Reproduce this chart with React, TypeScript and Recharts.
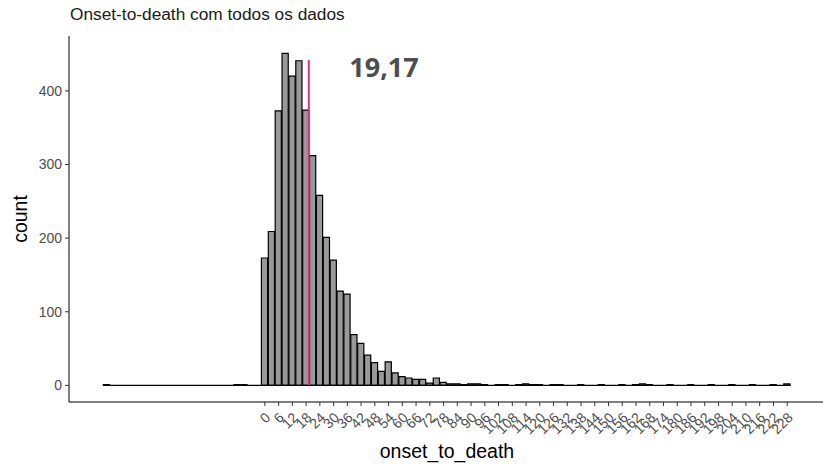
import { ComposedChart, Bar, XAxis, YAxis, ReferenceLine, ReferenceDot } from 'recharts';

// histogram bins (binwidth 3, centre of each bin); bins not listed are zero
const binCenters = [
  -69, -12, -9, 0, 3, 6, 9, 12, 15, 18, 21, 24, 27, 30, 33, 36, 39, 42, 45, 48, 51, 54, 57, 60,
  63, 66, 69, 72, 75, 78, 81, 84, 87, 90, 93, 96, 102, 105, 111, 114, 117, 120, 126, 129, 138,
  147, 156, 162, 165, 168, 177, 186, 195, 204, 213, 222, 228,
];
const binCounts = [
  1, 1, 1, 173, 209, 373, 451, 420, 441, 374, 312, 258, 201, 170, 128, 124, 69, 57, 41, 31, 19, 32,
  17, 12, 10, 8, 8, 3, 10, 4, 2, 2, 1, 2, 2, 1, 1, 1, 1, 2, 1, 1, 1, 1, 1, 1, 1, 1, 2, 1, 1, 1, 1,
  1, 1, 1, 2,
];
const xTicks = [
  0, 6, 12, 18, 24, 30, 36, 42, 48, 54, 60, 66, 72, 78, 84, 90, 96, 102, 108, 114, 120, 126, 132,
  138, 144, 150, 156, 162, 168, 174, 180, 186, 192, 198, 204, 210, 216, 222, 228,
];
const yTicks = [0, 100, 200, 300, 400];
const meanValue = 19.17;
const meanLabel = '19,17';
const meanTop = 442;
const labelPos = { x: 52, y: 432 };
const dataRange = [-70.5, 229.5];
const xDomain = [-85.5, 244.5];
const yDomain = [-22.6, 474.6];

const data = binCenters.map((x, i) => ({ x, count: binCounts[i] }));

const CHART_W = 830;
const CHART_H = 464;
const MARGIN = { top: 36, right: 5, bottom: 2, left: 9 };
const Y_AXIS_W = 60;
const X_AXIS_H = 60;
const plotW = CHART_W - MARGIN.left - MARGIN.right - Y_AXIS_W;
const barSize = (3 * plotW) / (xDomain[1] - xDomain[0]);

const FONT = '"Liberation Sans", Arial, sans-serif';

function XTick({ x, y, payload }: any) {
  return (
    <g transform={`translate(${x + 3},${y + 7})`}>
      <text
        x={0}
        y={0}
        dy="0.35em"
        textAnchor="end"
        transform="rotate(-45)"
        fill="#4d4d4d"
        fontSize={14}
        fontFamily={FONT}
      >
        {payload.value}
      </text>
    </g>
  );
}

function XTitle({ viewBox }: any) {
  const { x, y, width, height } = viewBox;
  return (
    <text x={x + width / 2} y={y + height - 4} textAnchor="middle" fontSize={19.5} fill="#000" fontFamily={FONT}>
      onset_to_death
    </text>
  );
}

function YTitle({ viewBox }: any) {
  const { x, y, height } = viewBox;
  const cx = x + 18;
  const cy = y + height / 2;
  return (
    <text
      x={cx}
      y={cy}
      textAnchor="middle"
      transform={`rotate(-90, ${cx}, ${cy})`}
      fontSize={19.5}
      fill="#000"
      fontFamily={FONT}
    >
      count
    </text>
  );
}

function MeanText({ viewBox }: any) {
  const { x, y, width, height } = viewBox;
  return (
    <text
      x={x + width / 2}
      y={y + height / 2}
      dy="0.36em"
      textAnchor="middle"
      fontSize={27}
      fontWeight="bold"
      fill="#4d4d4d"
      fontFamily='"Noto Sans", "Open Sans", sans-serif'
    >
      {meanLabel}
    </text>
  );
}

export default function App() {
  return (
    <div style={{ position: 'relative', width: 823, height: 464, overflow: 'hidden', background: '#fff' }}>
      <style>{'body { margin: 0; }'}</style>
      <div
        style={{
          position: 'absolute',
          left: 70,
          top: 4,
          fontFamily: FONT,
          fontSize: 17.3,
          color: '#1a1a1a',
          whiteSpace: 'nowrap',
        }}
      >
        Onset-to-death com todos os dados
      </div>
      <ComposedChart width={CHART_W} height={CHART_H} data={data} margin={MARGIN}>
        <XAxis
          dataKey="x"
          type="number"
          domain={xDomain}
          ticks={xTicks}
          interval={0}
          height={X_AXIS_H}
          tick={<XTick />}
          tickSize={4}
          tickLine={{ stroke: '#333' }}
          axisLine={{ stroke: '#000', strokeWidth: 1 }}
          label={<XTitle />}
        />
        <YAxis
          type="number"
          domain={yDomain}
          ticks={yTicks}
          width={Y_AXIS_W}
          tickSize={4}
          tickMargin={3}
          tick={{ fill: '#4d4d4d', fontSize: 14, fontFamily: FONT }}
          tickLine={{ stroke: '#333' }}
          axisLine={{ stroke: '#000', strokeWidth: 1 }}
          label={<YTitle />}
        />
        <Bar
          dataKey="count"
          barSize={barSize}
          fill="#999999"
          stroke="#000"
          strokeWidth={1.2}
          isAnimationActive={false}
        />
        <ReferenceLine
          segment={[
            { x: dataRange[0], y: 0 },
            { x: dataRange[1], y: 0 },
          ]}
          stroke="#000"
          strokeWidth={1.4}
        />
        <ReferenceLine
          segment={[
            { x: meanValue, y: 0 },
            { x: meanValue, y: meanTop },
          ]}
          stroke="#e0307f"
          strokeWidth={2}
        />
        <ReferenceDot x={labelPos.x} y={labelPos.y} r={1} fill="none" stroke="none" label={<MeanText />} />
      </ComposedChart>
    </div>
  );
}
